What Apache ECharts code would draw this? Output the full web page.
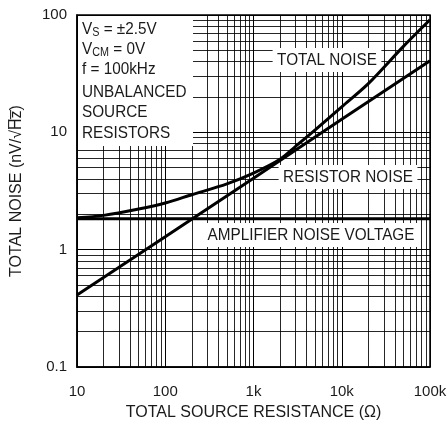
<!DOCTYPE html>
<html>
<head>
<meta charset="utf-8">
<script src="https://cdn.jsdelivr.net/npm/echarts@6/dist/echarts.min.js"></script>
<style>
html,body{margin:0;padding:0;background:#fff;}
#c{width:448px;height:421px;}
</style>
</head>
<body>
<div id="c"></div>
<script>
// ---- data ----
const totalR     = [10, 20, 50, 100, 200, 500, 1000, 2000, 3000, 5000, 10000, 20000, 50000, 100000];
const totalNoise = [1.87, 1.96, 2.22, 2.5, 2.94, 3.64, 4.5, 5.9, 7.6, 10.5, 16.5, 26, 54, 91];
const resistorR     = [10, 100, 1000, 10000, 100000];
const resistorNoise = [0.41, 1.29, 4.07, 12.9, 40.7];
const ampR     = [10, 100000];
const ampNoise = [1.83, 1.83];
const xTickLabels = {10:'10', 100:'100', 1000:'1k', 10000:'10k', 100000:'100k'};
const yTickLabels = {0.1:'0.1', 1:'1', 10:'10', 100:'100'};
const xDecades = [10, 100, 1000, 10000];
const yDecades = [0.1, 1, 10];
const minorMultipliers = [2, 3, 4, 5, 6, 7, 8, 9];
// each info line: [main, subscript, rest]
const infoLines = [
  ['V', 'S', ' = \u00B12.5V'],
  ['V', 'CM', ' = 0V'],
  ['f = 100kHz', '', ''],
  ['UNBALANCED', '', ''],
  ['SOURCE', '', ''],
  ['RESISTORS', '', '']
];

const FONT = "'Liberation Sans', Arial, sans-serif";
const INK = '#1a1a1a';
const SX = 0.9;

const xMinor = [];
xDecades.forEach(d => minorMultipliers.forEach(m => xMinor.push({xAxis: +(d*m).toPrecision(6)})));
const yMinor = [];
yDecades.forEach(d => minorMultipliers.forEach(m => yMinor.push({yAxis: +(d*m).toPrecision(6)})));

const pairs = (xs, ys) => xs.map((x, i) => [x, ys[i]]);

const ctx = document.createElement('canvas').getContext('2d');
function measure(text, size) { ctx.font = size + 'px ' + FONT; return ctx.measureText(text).width * SX; }

const chart = echarts.init(document.getElementById('c'), null, {renderer: 'canvas'});

function label(text, cx, cy) {
  return {
    type: 'text', z: 7, x: cx, y: cy, scaleX: SX, originX: 0, originY: 0,
    style: {
      text: text, font: '17px ' + FONT, fill: INK,
      align: 'center', verticalAlign: 'middle',
      backgroundColor: '#fff', padding: [4, 5, 3, 5]
    }
  };
}
function plainText(text, x, y, size) {
  return {
    type: 'text', z: 7, x: x, y: y, scaleX: SX, originX: 0, originY: 0,
    style: {text: text, font: size + 'px ' + FONT, fill: INK, align: 'left', verticalAlign: 'middle'}
  };
}

const infoY = [29, 49, 69, 92.5, 112.5, 133];
const infoEls = [];
infoLines.forEach((ln, i) => {
  let x = 82;
  const y = infoY[i];
  infoEls.push(plainText(ln[0], x, y, 17));
  x += measure(ln[0], 17);
  if (ln[1]) {
    infoEls.push(plainText(ln[1], x, y + 4, 12));
    x += measure(ln[1], 12);
  }
  if (ln[2]) infoEls.push(plainText(ln[2], x, y, 17));
});

chart.setOption({
  animation: false,
  backgroundColor: '#fff',
  grid: {left: 77, right: 18, top: 15, bottom: 54, show: true, borderColor: '#000', borderWidth: 1.5,
         containLabel: false, outerBoundsMode: 'none'},
  xAxis: {
    type: 'log', logBase: 10, min: 10, max: 100000,
    name: 'TOTAL SOURCE RESISTANCE (Ω)', nameLocation: 'middle', nameGap: 38,
    nameTextStyle: {fontFamily: FONT, fontSize: 16, color: INK},
    axisLine: {show: true, lineStyle: {color: '#000', width: 1.5}},
    axisTick: {show: false},
    axisLabel: {fontFamily: FONT, fontSize: 15, color: INK, margin: 17,
      formatter: v => xTickLabels[Math.round(v)] || ''},
    splitLine: {show: true, lineStyle: {color: '#000', width: 1}},
    minorTick: {show: false}, minorSplitLine: {show: false}
  },
  yAxis: {
    type: 'log', logBase: 10, min: 0.1, max: 100,
    name: 'TOTAL NOISE (nV/\u221AH\u0305z\u0305)', nameLocation: 'middle', nameGap: 52,
    nameTextStyle: {fontFamily: FONT, fontSize: 16, color: INK},
    axisLine: {show: true, lineStyle: {color: '#000', width: 1.5}},
    axisTick: {show: false},
    axisLabel: {fontFamily: FONT, fontSize: 15, color: INK, margin: 10,
      formatter: v => yTickLabels[+v.toPrecision(3)] || ''},
    splitLine: {show: true, lineStyle: {color: '#000', width: 1}},
    minorTick: {show: false}, minorSplitLine: {show: false}
  },
  series: [
    {
      type: 'line', data: [], z: 1, silent: true,
      markLine: {
        silent: true, symbol: 'none', label: {show: false}, z: 3,
        lineStyle: {color: '#000', width: 1, type: 'solid', opacity: 0.85},
        emphasis: {disabled: true},
        data: xMinor.concat(yMinor)
      }
    },
    {
      name: 'AMPLIFIER NOISE VOLTAGE', type: 'line', z: 10, symbol: 'none',
      data: pairs(ampR, ampNoise),
      lineStyle: {color: '#000', width: 3}
    },
    {
      name: 'RESISTOR NOISE', type: 'line', z: 10, symbol: 'none',
      data: pairs(resistorR, resistorNoise),
      lineStyle: {color: '#000', width: 3}
    },
    {
      name: 'TOTAL NOISE', type: 'line', z: 10, symbol: 'none', smooth: 0.3,
      data: pairs(totalR, totalNoise),
      lineStyle: {color: '#000', width: 3}
    }
  ],
  graphic: {
    elements: [
      {type: 'rect', z: 6, shape: {x: 78, y: 16, width: 115, height: 130}, style: {fill: '#fff'}}
    ].concat(infoEls, [
      label('TOTAL NOISE', 327, 60),
      label('RESISTOR NOISE', 348, 177),
      label('AMPLIFIER NOISE VOLTAGE', 311, 235)
    ])
  }
});
</script>
</body>
</html>
